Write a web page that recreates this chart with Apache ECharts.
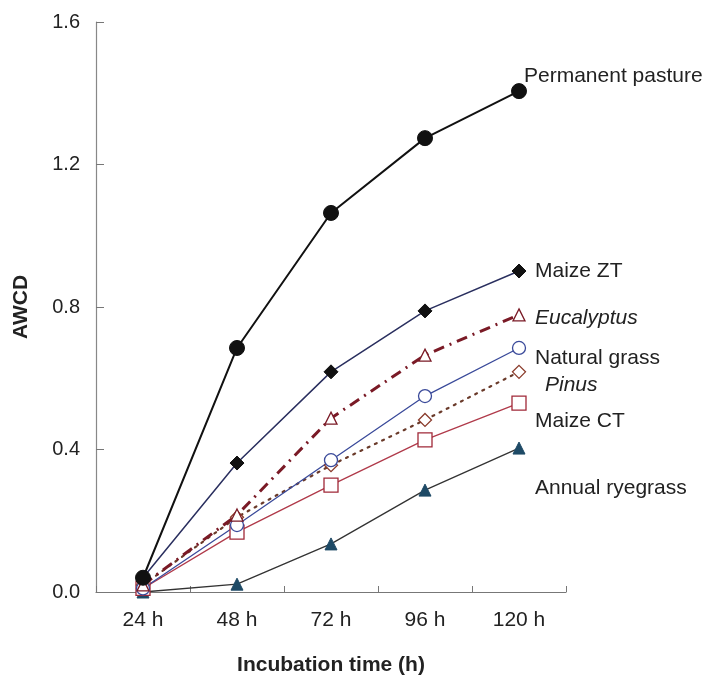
<!DOCTYPE html>
<html><head><meta charset="utf-8">
<script src="https://cdn.jsdelivr.net/npm/echarts@6/dist/echarts.min.js"></script>
<style>html,body{margin:0;padding:0;background:#fff}#c{width:712px;height:683px}</style>
</head><body><div id="c"></div>
<script>
const categories = ['24 h','48 h','72 h','96 h','120 h'];
const permanentPasture = [0.04, 0.685, 1.064, 1.274, 1.406];
const maizeZT = [0.04, 0.362, 0.618, 0.789, 0.901];
const eucalyptus = [0.02, 0.216, 0.488, 0.665, 0.778];
const naturalGrass = [0.01, 0.188, 0.37, 0.55, 0.685];
const pinus = [0.02, 0.21, 0.356, 0.483, 0.618];
const maizeCT = [0.01, 0.168, 0.30, 0.427, 0.53];
const annualRyegrass = [0.0, 0.022, 0.135, 0.286, 0.404];
const yTicks = [0, 0.4, 0.8, 1.2, 1.6];

const font = 'Arial, "Liberation Sans", sans-serif';
const chart = echarts.init(document.getElementById('c'));
function s(name, data, o) {
  return Object.assign({
    name, type: 'line', data, smooth: false, z: 3,
    lineStyle: { width: 1.3, color: o.line },
    itemStyle: o.fill ? { color: o.mk, borderColor: o.mk, borderWidth: 1 } : { color: '#fff', borderColor: o.mk, borderWidth: 1.3 },
    symbol: o.sym, symbolSize: o.size,
    animation: false
  }, o.extra || {});
}
const series = [
  s('Annual ryegrass', annualRyegrass, { line: '#333', mk: '#1e4a66', fill: true, sym: 'triangle', size: 12 }),
  s('Maize CT', maizeCT, { line: '#b03a4a', mk: '#a02838', fill: false, sym: 'rect', size: 14 }),
  s('Pinus', pinus, { line: '#6a3a2a', mk: '#8a3a2a', fill: false, sym: 'diamond', size: 13 }),
  s('Natural grass', naturalGrass, { line: '#3a4a9a', mk: '#3a4a9a', fill: false, sym: 'circle', size: 13 }),
  s('Eucalyptus', eucalyptus, { line: '#7a1a26', mk: '#7a1a26', fill: false, sym: 'triangle', size: 12 }),
  s('Maize ZT', maizeZT, { line: '#2a2f5f', mk: '#111', fill: true, sym: 'diamond', size: 14 }),
  s('Permanent pasture', permanentPasture, { line: '#111', mk: '#111', fill: true, sym: 'circle', size: 15 })
];
series[2].lineStyle = { width: 2.2, color: '#6a3a2a', type: [2, 6], cap: 'round' };
series[4].lineStyle = { width: 3, color: '#7a1a26', type: [11, 6, 2, 6] };
series[6].lineStyle = { width: 2, color: '#111' };
series[5].lineStyle = { width: 1.5, color: '#2a2f5f' };

const labels = [
  { t: 'Permanent pasture', x: 524, y: 75, i: false },
  { t: 'Maize ZT', x: 535, y: 270, i: false },
  { t: 'Eucalyptus', x: 535, y: 317, i: true },
  { t: 'Natural grass', x: 535, y: 357, i: false },
  { t: 'Pinus', x: 545, y: 384, i: true },
  { t: 'Maize CT', x: 535, y: 420, i: false },
  { t: 'Annual ryegrass', x: 535, y: 487, i: false }
];

chart.setOption({
  backgroundColor: '#fff',
  animation: false,
  grid: { left: 96, right: 146, top: 22, bottom: 91 },
  xAxis: {
    type: 'category', data: categories, boundaryGap: true,
    name: 'Incubation time (h)', nameLocation: 'middle', nameGap: 63,
    nameTextStyle: { fontFamily: font, fontSize: 21, fontWeight: 'bold', color: '#222' },
    axisLine: { lineStyle: { color: '#777', width: 1.2 } },
    axisTick: { show: true, inside: true, length: 6, lineStyle: { color: '#777' } },
    axisLabel: { fontFamily: font, fontSize: 21, color: '#222', margin: 18 },
    splitLine: { show: false }
  },
  yAxis: {
    type: 'value', min: 0, max: 1.6, interval: 0.4,
    name: 'AWCD', nameLocation: 'middle', nameGap: 64, nameRotate: 90,
    nameTextStyle: { fontFamily: font, fontSize: 21, fontWeight: 'bold', color: '#222' },
    axisLine: { show: true, lineStyle: { color: '#888', width: 1.2 } },
    axisTick: { show: true, inside: true, length: 8, lineStyle: { color: '#777' } },
    axisLabel: { fontFamily: font, fontSize: 20, color: '#222', margin: 16,
      formatter: v => yTicks.indexOf(v) >= 0 ? v.toFixed(1) : '' },
    splitLine: { show: false }
  },
  series,
  graphic: labels.map(l => ({
    type: 'text', left: l.x, top: l.y - 9, z: 10,
    style: { text: l.t, font: (l.i ? 'italic ' : '') + '21px ' + font, fill: '#222' }
  }))
});
</script></body></html>
